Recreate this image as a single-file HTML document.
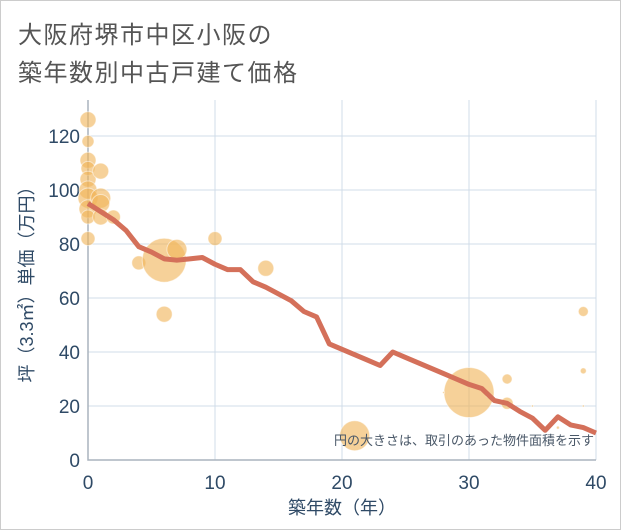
<!DOCTYPE html>
<html><head><meta charset="utf-8"><style>
body{margin:0;background:#fff;font-family:"Liberation Sans","Noto Sans CJK JP",sans-serif;}
#wrap{position:relative;width:619px;height:528px;border:1px solid #ccc;background:#fff;}
.t{position:absolute;left:17px;font-size:24px;color:#555;letter-spacing:1.5px;}
</style></head><body>
<div id="wrap">
<div class="t" style="top:14px">大阪府堺市中区小阪の</div>
<div class="t" style="top:52px">築年数別中古戸建て価格</div>
<svg id="c" width="621" height="530" style="position:absolute;left:-1px;top:-1px"></svg>
</div>
<script>
const lineYears=[0,1,2,3,4,5,6,7,8,9,10,11,12,13,14,15,16,17,18,19,20,21,22,23,24,25,26,27,28,29,30,31,32,33,34,35,36,37,38,39,40];
const lineValues=[95,92,89,85,79,77,74.5,74,74.5,75,72.5,70.5,70.5,66,64,61.5,59,55,53,43,41,39,37,35,40,38,36,34,32,30,28,26.5,22,21,18,15.5,11,16,13,12,10];
const bubbleX=[0,0,0,0,0,0,0,0,0,0,1,1,1,1,2,4,6,7,6,10,14,21,30,33,33,39,39,31.5,35,37,39,28];
const bubbleY=[126,118,111,108,104,100,97,93,90,82,107,97,95,90,90,73,74,78,54,82,71,9,25,30,21,55,33,24,20,12,20,25];
const bubbleR=[8,6,8,7,8,9,10,9,7,7,8,10,9,8,7,7,22,10,8,7,8,15,25,5,6,5,3,2,1,1.5,1,1];
const xTicks=[0,10,20,30,40];
const yTicks=[0,20,40,60,80,100,120];
const svg=document.getElementById('c');const NS='http://www.w3.org/2000/svg';
const X0=88,X1=596,Y0=460,Y1=100;
const xs=v=>X0+(v/40)*(X1-X0);const ys=v=>Y0-v*2.7;
function mk(t,a,p){const e=document.createElementNS(NS,t);for(const k in a)e.setAttribute(k,a[k]);(p||svg).appendChild(e);return e;}
xTicks.forEach(v=>{const l=mk('line',{x1:xs(v),x2:xs(v),y1:Y1,y2:Y0,stroke:'#d0dce8','stroke-width':1});


const t=mk('text',{x:xs(v),y:489,'text-anchor':'middle','font-size':19,fill:'#2f4a66'});t.textContent=v;

});
yTicks.forEach(v=>{const l=mk('line',{x1:X0,x2:X1,y1:ys(v),y2:ys(v),stroke:'#d0dce8','stroke-width':1});


const t=mk('text',{x:80,y:ys(v)+7,'text-anchor':'end','font-size':19,fill:'#2f4a66'});t.textContent=v;

});
const ax=mk('path',{d:`M${X0} ${Y1}V${Y0}H${X1}`,fill:'none',stroke:'#aab4be','stroke-width':1.5});


bubbleX.forEach((v,i)=>{const c=mk('circle',{cx:xs(v),cy:ys(bubbleY[i]),r:bubbleR[i],fill:'rgba(240,180,90,0.62)',stroke:'rgba(255,255,255,0.5)','stroke-width':1});

});
const pts=lineYears.map((v,i)=>xs(v)+','+ys(lineValues[i])).join(' ');
const pl=mk('polyline',{points:pts,fill:'none',stroke:'#d4705a','stroke-width':5,'stroke-linejoin':'round'});


const xt=mk('text',{x:342,y:514,'text-anchor':'middle','font-size':18,fill:'#2f4a66'});xt.textContent='築年数（年）';


const yt=mk('text',{x:0,y:0,'text-anchor':'middle','font-size':18,fill:'#2f4a66',transform:'translate(33,280) rotate(-90)'});yt.textContent='坪（3.3㎡）単価（万円）';


const nt=mk('text',{x:594,y:445,'text-anchor':'end','font-size':13,fill:'#4a5868'});nt.textContent='円の大きさは、取引のあった物件面積を示す';


</script>
</body></html>
